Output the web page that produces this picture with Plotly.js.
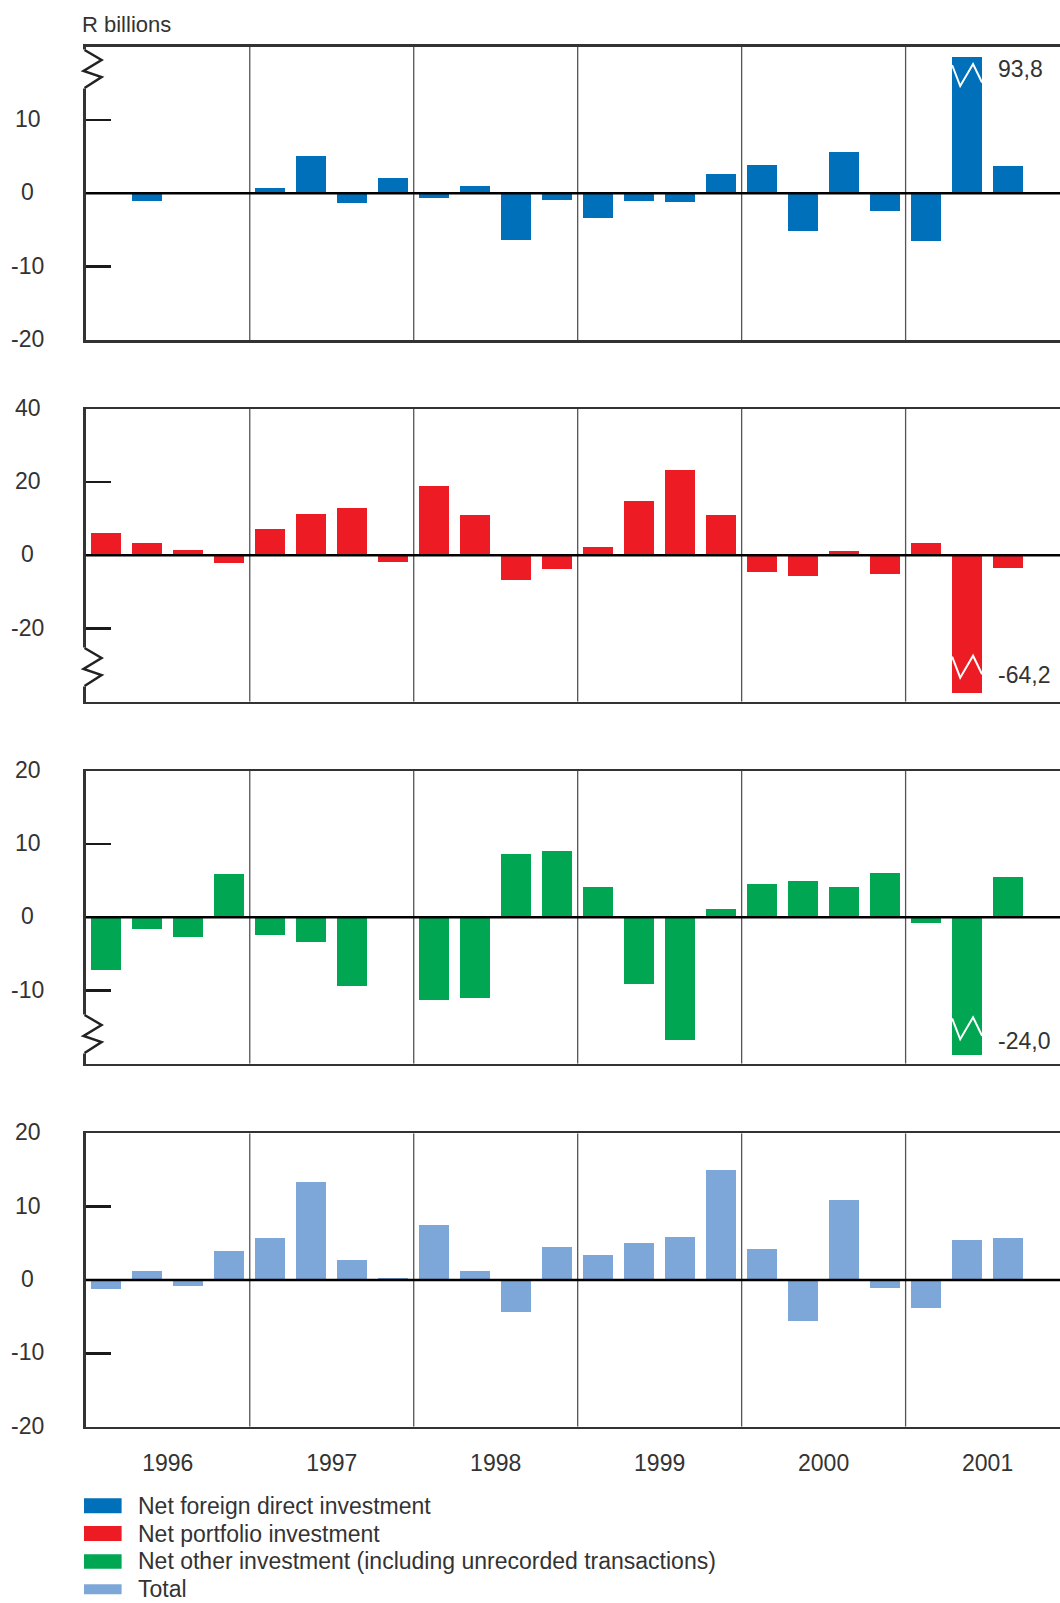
<!DOCTYPE html>
<html>
<head>
<meta charset="utf-8">
<script src="https://cdn.plot.ly/plotly-3.0.1.min.js"></script>
<style>
html,body{margin:0;padding:0;background:#fff;overflow:hidden}
#chart{width:1060px;height:1603px}
</style>
</head>
<body>
<div id="chart"></div>
<script>
// ---------------- data ----------------
const quarters = ['1996Q1','1996Q2','1996Q3','1996Q4',
                  '1997Q1','1997Q2','1997Q3','1997Q4',
                  '1998Q1','1998Q2','1998Q3','1998Q4',
                  '1999Q1','1999Q2','1999Q3','1999Q4',
                  '2000Q1','2000Q2','2000Q3','2000Q4',
                  '2001Q1','2001Q2','2001Q3'];
const years = ['1996','1997','1998','1999','2000','2001'];

const netFDI       = [0, -1.0, 0, 0,   0.7, 5.1, -1.3, 2.1,   -0.6, 1.0, -6.4, -0.9,   -3.4, -1.0, -1.2, 2.6,   3.9, -5.1, 5.6, -2.4,   -6.5, 93.8, 3.7];
const netPortfolio = [6.0, 3.5, 1.6, -2.2,   7.1, 11.4, 13.0, -1.9,   19.0, 11.1, -6.8, -3.8,   2.2, 14.9, 23.3, 10.9,   -4.6, -5.7, 1.1, -5.2,   3.3, -64.2, -3.5];
const netOther     = [-7.2, -1.6, -2.7, 5.9,   -2.4, -3.4, -9.4, 0,   -11.3, -11.0, 8.6, 9.0,   4.2, -9.1, -16.8, 1.2,   4.6, 5.0, 4.1, 6.1,   -0.8, -24.0, 5.5];
const total        = [-1.2, 1.2, -0.8, 4.0,   5.7, 13.4, 2.7, 0.3,   7.5, 1.2, -4.4, 4.5,   3.4, 5.0, 5.9, 15.0,   4.2, -5.6, 10.9, -1.1,   -3.8, 5.5, 5.7];

const seriesNames = ['Net foreign direct investment',
                     'Net portfolio investment',
                     'Net other investment (including unrecorded transactions)',
                     'Total'];
const unitLabel = 'R billions';

// ---------------- layout / style ----------------
const W = 1060, H = 1603;
const FONT = 'Liberation Sans, Arial, Helvetica, sans-serif';
const TXT = '#333333';
const FS = 23;
const xLeftPx = 85.8, quarterPx = 40.99;
const xRange = [-0.5, -0.5 + (W - xLeftPx) / quarterPx];
const barWidth = 0.73;
const axisLineX = xLeftPx - 1.25;

const panels = [
  {values: netFDI, color: '#0070BA', range: [-20, 20], top: 46.7, bottom: 340,
   tickMarks: [-10, 10], tickLabels: [-20, -10, 0, 10], cap: [-20, 18.55],
   axisBreakPx: 50, barZigPx: 65, valueLabelPx: 69},
  {values: netPortfolio, color: '#ED1C24', range: [-40, 40], top: 409, bottom: 701.7,
   tickMarks: [-20, 20], tickLabels: [-20, 0, 20, 40], cap: [-37.6, 40],
   axisBreakPx: 648, barZigPx: 656.7, valueLabelPx: 675},
  {values: netOther, color: '#00A651', range: [-20, 20], top: 771, bottom: 1063.7,
   tickMarks: [-10, 10], tickLabels: [-10, 0, 10, 20], cap: [-18.8, 20],
   axisBreakPx: 1015, barZigPx: 1018.3, valueLabelPx: 1040.7},
  {values: total, color: '#7DA7D9', range: [-20, 20], top: 1133.3, bottom: 1426.7,
   tickMarks: [-10, 10], tickLabels: [-20, -10, 0, 10, 20], cap: [-20, 20]}
];

const fmt = v => v.toFixed(1).replace('.', ',');
const clamp = (v, c) => Math.max(c[0], Math.min(c[1], v));
const px2paperX = px => px / W;
const px2paperY = py => 1 - py / H;

const data = [];
const shapes = [];
const annotations = [];
const layout = {
  width: W, height: H,
  margin: {l: 0, r: 0, t: 0, b: 0, pad: 0},
  paper_bgcolor: '#ffffff', plot_bgcolor: '#ffffff',
  showlegend: false, bargap: 0,
  font: {family: FONT, size: FS, color: TXT}
};

const axisBreakY = [0, 10, 21, 27, 38];
const axisBreakX = [0, 17, -1, 17, 0];
const barZigF = [0, 0.27, 0.7, 1.0];
const barZigY = [0, 21, -1, 17.5];

panels.forEach((p, k) => {
  const s = k === 0 ? '' : String(k + 1);
  const xa = 'x' + s, ya = 'y' + s;
  const pxPerUnit = (p.bottom - p.top) / (p.range[1] - p.range[0]);
  const py2y = py => p.range[1] - (py - p.top) / pxPerUnit;

  layout['xaxis' + s] = {
    domain: [xLeftPx / W, 1], range: xRange, anchor: ya,
    showline: true, mirror: true, linecolor: '#333333', linewidth: 2.5,
    showgrid: false, zeroline: false, ticks: '',
    tickmode: 'array', tickvals: years.map((y, i) => 4 * i + 1.5), ticktext: years,
    showticklabels: k === 3, ticklabelstandoff: 14,
    tickfont: {family: FONT, size: FS, color: TXT}, fixedrange: true
  };
  layout['yaxis' + s] = {
    domain: [1 - p.bottom / H, 1 - p.top / H], range: p.range, anchor: xa,
    showline: true, mirror: false, linecolor: '#333333', linewidth: 2.5,
    showgrid: false, zeroline: false,
    ticks: 'inside', ticklen: 25, tickwidth: 2.5, tickcolor: '#1a1a1a',
    tickmode: 'array', tickvals: p.tickMarks, showticklabels: false, fixedrange: true
  };

  data.push({
    type: 'bar', name: seriesNames[k],
    x: quarters.map((q, i) => i),
    y: p.values.map(v => clamp(v, p.cap)),
    width: barWidth,
    marker: {color: p.color, line: {width: 0}},
    hovertext: quarters.map((q, i) => q + ': ' + fmt(p.values[i])),
    hoverinfo: 'text',
    xaxis: xa, yaxis: ya
  });

  // year separators
  for (let yi = 1; yi < years.length; yi++) {
    shapes.push({type: 'line', xref: xa, yref: ya, layer: 'below',
      x0: 4 * yi - 0.5, x1: 4 * yi - 0.5, y0: p.range[0], y1: p.range[1],
      line: {color: '#555555', width: 1.3}});
  }
  // zero line
  shapes.push({type: 'line', xref: xa, yref: ya, layer: 'above',
    x0: xRange[0], x1: xRange[1], y0: 0, y1: 0,
    line: {color: '#000000', width: 2.5}});

  // y tick labels (centred, as in the original)
  p.tickLabels.forEach(v => {
    annotations.push({xref: 'paper', yref: ya, x: px2paperX(27.5), y: v,
      xanchor: 'center', yanchor: 'middle', showarrow: false, yshift: 1,
      text: String(v), font: {family: FONT, size: FS, color: TXT}});
  });

  // broken bars
  p.values.forEach((v, i) => {
    if (clamp(v, p.cap) !== v) {
      const path = barZigF.map((f, j) => {
        const x = i - barWidth / 2 + f * barWidth;
        const y = py2y(p.barZigPx + barZigY[j]);
        return (j === 0 ? 'M' : 'L') + x + ',' + y;
      }).join(' ');
      shapes.push({type: 'path', xref: xa, yref: ya, layer: 'above', path: path,
        line: {color: '#ffffff', width: 2}});
      annotations.push({xref: xa, yref: 'paper', x: i, y: px2paperY(p.valueLabelPx),
        xanchor: 'left', yanchor: 'middle', xshift: 29, showarrow: false,
        text: fmt(v), font: {family: FONT, size: FS, color: TXT}});
    }
  });

  // axis break
  if (p.axisBreakPx !== undefined) {
    const b = p.axisBreakPx;
    shapes.push({type: 'line', xref: 'paper', yref: 'paper', layer: 'above',
      x0: px2paperX(axisLineX), x1: px2paperX(axisLineX),
      y0: px2paperY(b - 0.5), y1: px2paperY(b + axisBreakY[axisBreakY.length - 1] + 0.5),
      line: {color: '#ffffff', width: 5}});
    const path = axisBreakY.map((dy, j) =>
      (j === 0 ? 'M' : 'L') + px2paperX(axisLineX + axisBreakX[j]) + ',' + px2paperY(b + dy)).join(' ');
    shapes.push({type: 'path', xref: 'paper', yref: 'paper', layer: 'above', path: path,
      line: {color: '#222222', width: 2.5}});
  }
});

// unit label
annotations.push({xref: 'paper', yref: 'paper', x: px2paperX(80), y: px2paperY(24),
  xanchor: 'left', yanchor: 'middle', showarrow: false, text: unitLabel,
  font: {family: FONT, size: 22, color: TXT}});

// legend
const legendTop = 1505.8, legendStep = 27.8;
const swatchH = [15, 15, 14.5, 10];
seriesNames.forEach((name, k) => {
  const cy = legendTop + k * legendStep;
  shapes.push({type: 'rect', xref: 'paper', yref: 'paper', layer: 'above',
    x0: px2paperX(84), x1: px2paperX(121.6),
    y0: px2paperY(cy - swatchH[k] / 2), y1: px2paperY(cy + swatchH[k] / 2),
    fillcolor: panels[k].color, line: {width: 0}});
  annotations.push({xref: 'paper', yref: 'paper', x: px2paperX(136), y: px2paperY(cy),
    xanchor: 'left', yanchor: 'middle', showarrow: false, text: name,
    font: {family: FONT, size: FS, color: TXT}});
});

layout.shapes = shapes;
layout.annotations = annotations;

Plotly.newPlot('chart', data, layout, {displayModeBar: false, staticPlot: true});
</script>
</body>
</html>
